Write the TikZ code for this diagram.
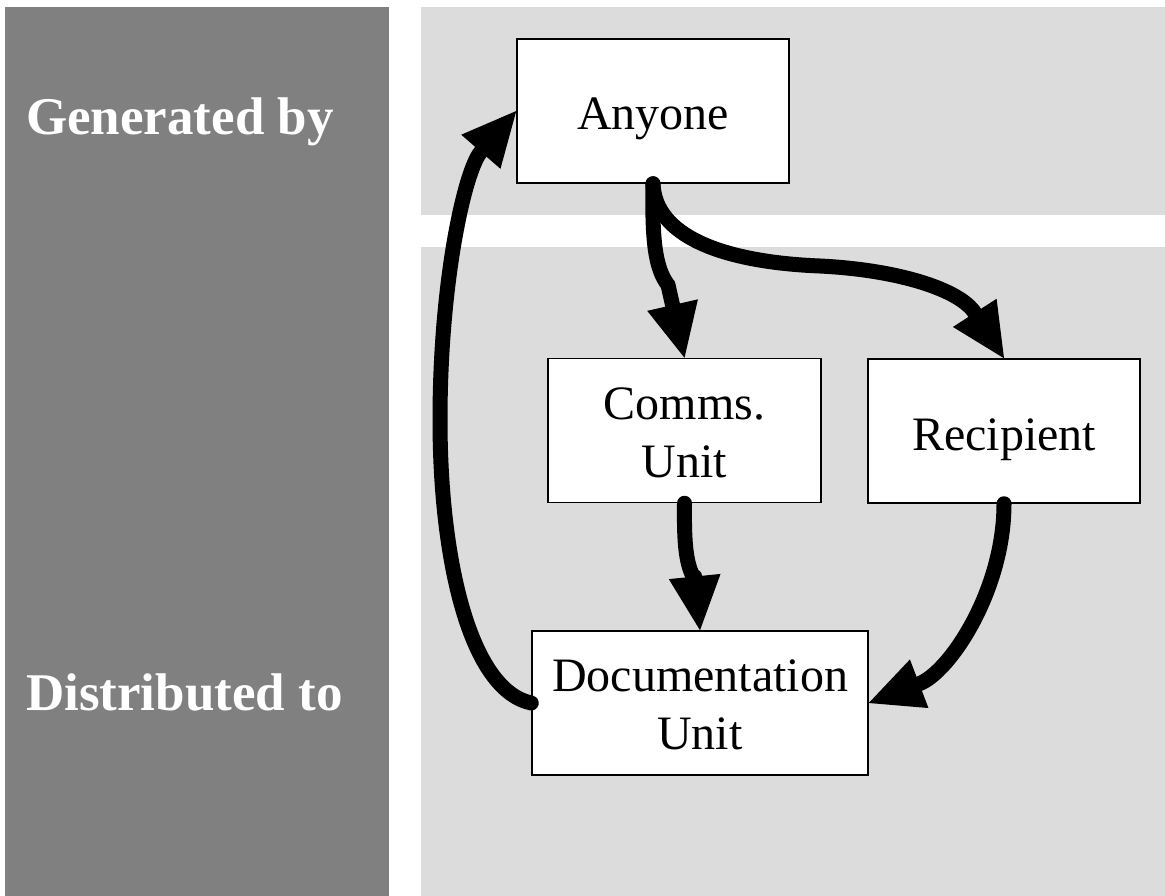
\documentclass[tikz,border=0pt]{standalone}
\usepackage{fontspec}
\setmainfont{Liberation Serif}
\usetikzlibrary{arrows.meta}
\definecolor{colgrey}{RGB}{128,128,128}
\definecolor{bandgrey}{RGB}{220,220,220}
\tikzset{
  box/.style={draw=black, line width=1.5pt, fill=white, minimum width=272pt, minimum height=144pt, inner sep=0pt},
  lbl/.style={font=\fontsize{48}{57.5}\selectfont, align=center, inner sep=0pt, anchor=base},
  side/.style={font=\fontsize{53}{60}\selectfont\bfseries, text=white, inner sep=0pt, anchor=base west},
  flow/.style={line width=15pt, line cap=round, -{Triangle[length=54pt,width=52pt,line width=0pt]}}
}
\begin{document}
\begin{tikzpicture}[x=1pt,y=-1pt]
\useasboundingbox (0,0) rectangle (1165,896);
\fill[white] (0,0) rectangle (1165,896);
\fill[colgrey] (5,7) rectangle (389,896);
\fill[bandgrey] (421,7) rectangle (1165,215);
\fill[bandgrey] (421,247) rectangle (1165,896);

\node[side] (gen) at (26,135) {Generated by};
\node[side] (dist) at (26,710) {Distributed to};

\node[box] (A) at (653,111) {};
\node[box, minimum width=273pt] (C) at (684.5,430.5) {};
\node[box] (R) at (1004,431) {};
\node[box, minimum width=336pt] (D) at (700,703) {};

\node[lbl] (At) at (653,130) {Anyone};
\node[lbl] (Ct) at (684.5,477) {Comms.\\Unit};
\node[lbl] (Rt) at (1004,450) {Recipient};
\node[lbl] (Dt) at (700,749) {Documentation\\Unit};

\draw[flow] (A.south) .. controls (652,240) and (655,268) .. (668,285) -- (C.north);
\draw[flow] (A.south) .. controls (655,235) and (720,262) .. (820,266) .. controls (900,270) and (960,290) .. (R.north);
\draw[flow] (C.south) .. controls (684,545) and (686,565) .. (695,580) -- (D.north);
\draw[flow] (R.south) .. controls (1004,590) and (950,672) .. (D.east);
\draw[flow] (D.west) .. controls (470,690) and (440,560) .. (440,420) .. controls (440,280) and (465,170) .. (A.west);
\end{tikzpicture}
\end{document}
